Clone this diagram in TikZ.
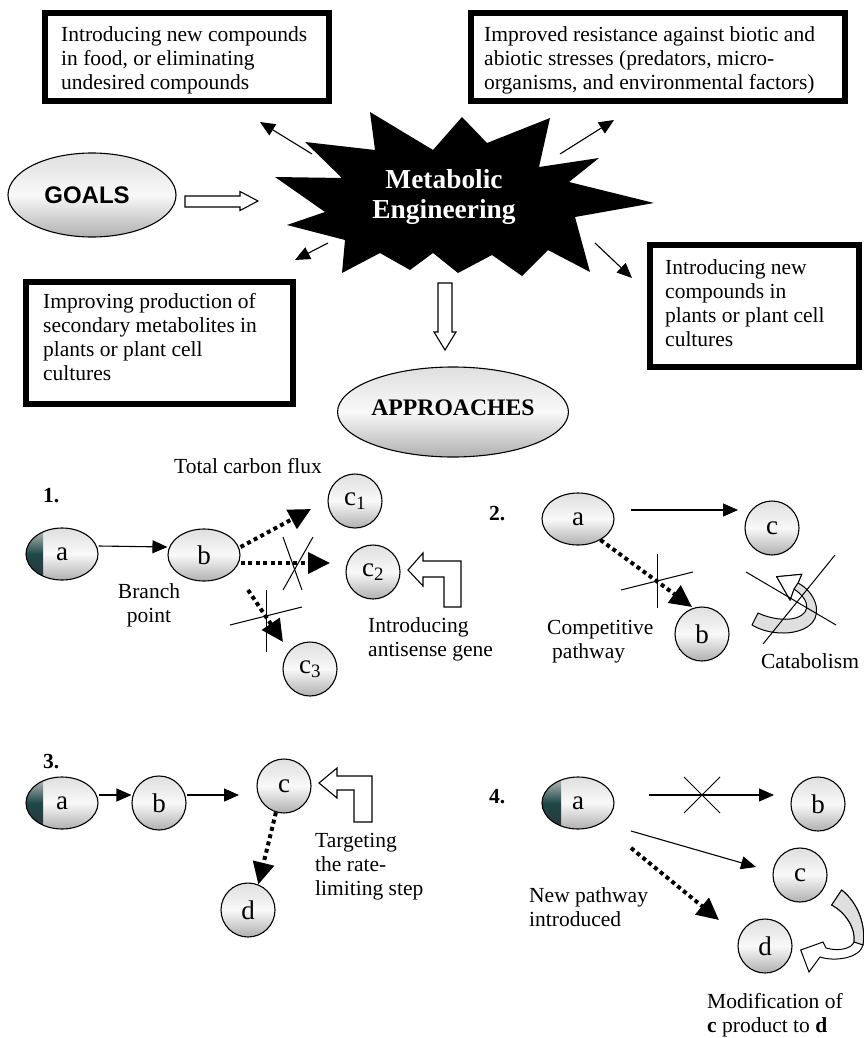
\documentclass[tikz,border=0pt]{standalone}
\usepackage{fontspec}
\setmainfont{Liberation Serif}
\setsansfont{Liberation Sans}
\usetikzlibrary{arrows.meta,shapes.geometric,calc}
\begin{document}
\begin{tikzpicture}[x=1pt,y=-1pt,
  gbox/.style={draw, line width=6pt, inner sep=0pt},
  txt/.style={font=\fontsize{21.5}{24}\selectfont, inner sep=0pt, align=left, anchor=north west},
  num/.style={font=\bfseries\fontsize{21.5}{24}\selectfont, inner sep=0pt, anchor=base west},
  ball/.style={draw, line width=1.1pt, top color=gray!25, bottom color=gray!62, middle color=gray!5, inner sep=0pt, font=\fontsize{27}{27}\selectfont},
  ell/.style={ball, ellipse, minimum width=72pt, minimum height=52pt},
  circ/.style={ball, circle, minimum size=54pt},
  darkleft/.style={path picture={\shade[top color=gray!45, bottom color={rgb,255:red,48;green,50;blue,56}, middle color={rgb,255:red,30;green,72;blue,72}] ([xshift=-2pt]path picture bounding box.north west) rectangle ([xshift=#1]path picture bounding box.south west);}},
  thinarr/.style={line width=1.1pt, -{Triangle[length=15pt,width=13pt]}},
  dotarr/.style={line width=4pt, dash pattern=on 4pt off 3.5pt, -{Triangle[length=22pt,width=21pt]}},
  cross/.style={line width=1pt},
  hollow/.style={draw, line width=1.1pt, fill=white, line join=miter},
  band/.style={draw, line width=1pt, fill=gray!25, line join=round}
]
\useasboundingbox[fill=white] (0,0) rectangle (864,1038);

% ---------- goal boxes ----------
\node[gbox, minimum width=284pt, minimum height=88pt] (g1) at (187,57) {};
\node[txt] (g1t) at (61,26) {Introducing new compounds\\in food, or eliminating\\undesired compounds};
\node[gbox, minimum width=374pt, minimum height=88pt] (g2) at (658,57) {};
\node[txt] (g2t) at (484,26) {Improved resistance against biotic and\\abiotic stresses (predators, micro-\\organisms, and environmental factors)};
\node[gbox, minimum width=267pt, minimum height=122pt] (g3) at (159.5,343) {};
\node[txt] (g3t) at (43,293) {Improving production of\\secondary metabolites in\\plants or plant cell\\cultures};
\node[gbox, minimum width=209pt, minimum height=122pt] (g4) at (754.5,306) {};
\node[txt] (g4t) at (665,259) {Introducing new\\compounds in\\plants or plant cell\\cultures};

% ---------- star ----------
\fill[black] (370,112) -- (433,150) -- (462,117) -- (487,143) -- (550,118) -- (539,167) -- (599,158) -- (569,182) -- (654,203) -- (575,217) -- (590,272) -- (548,250) -- (522,276) -- (492,255) -- (458,273) -- (433,253) -- (410,270) -- (380,253) -- (342,273) -- (345,240) -- (287,225) -- (325,212) -- (275,177) -- (342,178) -- (305,142) -- (375,150) -- cycle;
\node[font=\bfseries\fontsize{27.4}{30}\selectfont, text=white, align=center, inner sep=0pt] (me) at (444,197) {Metabolic\\Engineering};

\coordinate (s1a) at (312,154); \coordinate (s1b) at (260,122);
\coordinate (s2a) at (560,154); \coordinate (s2b) at (614,120);
\coordinate (s3a) at (328,243); \coordinate (s3b) at (295,260);
\coordinate (s4a) at (595,243); \coordinate (s4b) at (632,278);
\draw[thinarr] (s1a) -- (s1b);
\draw[thinarr] (s2a) -- (s2b);
\draw[thinarr] (s3a) -- (s3b);
\draw[thinarr] (s4a) -- (s4b);

% ---------- GOALS / APPROACHES ----------
\node[ball, ellipse, minimum width=168pt, minimum height=84pt, font=\sffamily\bfseries\fontsize{24}{24}\selectfont] (goals) at (92,195) {\raisebox{-8pt}[0pt][0pt]{\hspace*{-10pt}GOALS}};
\draw[hollow] (185,196) -- (240,196) -- (240,191.5) -- (258,201) -- (240,210.5) -- (240,207) -- (185,207) -- cycle;
\draw[hollow] (438,283) -- (452,283) -- (452,332) -- (456,332) -- (445,350) -- (434,332) -- (438,332) -- cycle;
\node[ball, ellipse, minimum width=214pt, minimum height=90pt, font=\bfseries\fontsize{23.7}{24}\selectfont] (appr) at (453,412) {\raisebox{-3pt}[0pt][0pt]{APPROACHES}};

% ---------- approach 1 ----------
\node[num] (n1) at (43,502) {1.};
\node[font=\fontsize{21.5}{24}\selectfont, inner sep=0pt, anchor=base] (tcf) at (248,473) {Total carbon flux};
\node[ell, darkleft=17pt] (a1) at (62,554) {a};
\node[ell] (b1) at (204,555) {b};
\node[circ] (c11) at (355,501) {c\textsubscript{1}};
\node[circ] (c12) at (373,572) {c\textsubscript{2}};
\node[circ] (c13) at (310,669) {c\textsubscript{3}};
\draw[thinarr] ([yshift=8pt]a1.east) -- ([yshift=8pt]b1.west);
\coordinate (t11) at (311,509);
\coordinate (t12) at (330,563);
\coordinate (f13) at (248,590); \coordinate (t13) at (283,642);
\draw[dotarr] ([yshift=8pt]b1.east) -- (t11);
\draw[dotarr] ([yshift=-8pt]b1.east) -- (t12);
\draw[dotarr] (f13) -- (t13);
\draw[cross] (283,537) -- (302,590);
\draw[cross] (313,537) -- (283,590);
\draw[cross] (266,590) -- (266,652);
\draw[cross] (230,625) -- (302,607);
\node[font=\fontsize{21.5}{24}\selectfont, inner sep=0pt, align=center, anchor=north] (bp) at (149,583) {Branch\\point};
\draw[hollow] (408,570) -- (423,553) -- (423,561) -- (461,561) -- (461,607) -- (444,607) -- (444,577) -- (423,577) -- (423,586) -- cycle;
\node[txt] (anti) at (368,617) {Introducing\\antisense gene};

% ---------- approach 2 ----------
\node[num] (n2) at (489,520) {2.};
\node[ell] (a2) at (578,519) {a};
\node[circ] (c2) at (772,528) {c};
\node[circ] (b2) at (702,634) {b};
\coordinate (f2c) at (631,510); \coordinate (t2c) at (738,510);
\draw[thinarr] (f2c) -- (t2c);
\coordinate (t2b) at (692,607);
\draw[dotarr] (a2.-43) -- (t2b);
\draw[cross] (657,554) -- (657,608);
\draw[cross] (621,590) -- (693,572);
\node[txt] (comp) at (547,620) {Competitive\\\hspace*{5pt}pathway};
\draw[band] (776.7,576.7) -- (801.7,574.3) -- (798,583) .. controls (815,592) and (822,612) .. (812,623) .. controls (800,636) and (770,636) .. (752,625) -- (758,613) .. controls (775,621) and (798,622) .. (805,612) .. controls (810,604) and (803,595) .. (794,589) -- (790,600) -- cycle;
\draw[hollow, line width=1pt] (776.7,576.7) -- (801.7,574.3) -- (798,583) -- (794,589) -- (790,600) -- cycle;
\draw[cross] (746,572) -- (836,625);
\draw[cross] (835,555) -- (763,644);
\node[font=\fontsize{21.5}{24}\selectfont, inner sep=0pt, anchor=base] (cat) at (810,668) {Catabolism};

% ---------- approach 3 ----------
\node[num] (n3) at (43,768) {3.};
\node[ell, darkleft=17pt] (a3) at (62,803) {a};
\node[circ] (b3) at (159,803) {b};
\node[circ] (c3) at (284,786) {c};
\node[circ] (d3) at (248,910) {d};
\draw[thinarr] ([yshift=8pt]a3.east) -- ([yshift=8pt]b3.west);
\coordinate (t3c) at (239,795);
\draw[thinarr] ([yshift=8pt]b3.east) -- (t3c);
\draw[dotarr] (c3.253) -- (d3.68);
\draw[hollow] (319,783) -- (337,768) -- (337,776) -- (372,776) -- (372,822) -- (354,822) -- (354,790) -- (337,790) -- (337,798) -- cycle;
\node[txt] (targ) at (315,833) {Targeting\\the rate-\\limiting step};

% ---------- approach 4 ----------
\node[num] (n4) at (489,803) {4.};
\node[ell, darkleft=19pt] (a4) at (578,803) {a};
\node[circ] (b4) at (818,804) {b};
\node[circ] (c4) at (800,875) {c};
\node[circ] (d4) at (765,946) {d};
\coordinate (f4b) at (649,795); \coordinate (t4b) at (774,795);
\draw[thinarr] (f4b) -- (t4b);
\draw[cross] (684,777) -- (720,813);
\draw[cross] (720,777) -- (684,813);
\coordinate (f4c) at (631,831); \coordinate (t4c) at (756,867);
\draw[thinarr] (f4c) -- (t4c);
\coordinate (f4d) at (631,848); \coordinate (t4d) at (719,920);
\draw[dotarr] (f4d) -- (t4d);
\node[txt] (newp) at (529,887) {New pathway\\introduced};
\draw[hollow, line width=1pt] (841.7,890) .. controls (858,903) and (866,925) .. (863,945) .. controls (860,958) and (835,962) .. (820,957) -- (809,972) -- (800.7,950) -- (823,942) -- (826,948) .. controls (840,952) and (852,948) .. (854,942) .. controls (856,928) and (845,912) .. (831.7,905) -- cycle;
\draw[band] (841.7,890) .. controls (858,903) and (866,925) .. (863,945) -- (854,942) .. controls (856,928) and (845,912) .. (831.7,905) -- cycle;
\node[txt] (modif) at (707,993) {Modification of\\\textbf{c} product to \textbf{d}};
\end{tikzpicture}
\end{document}
